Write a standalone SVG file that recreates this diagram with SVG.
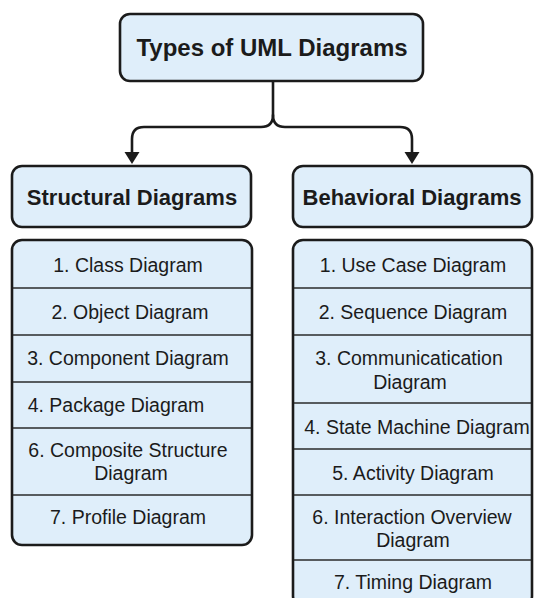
<svg xmlns="http://www.w3.org/2000/svg" width="547" height="598" viewBox="0 0 547 598">
<style>
.box{fill:#dfeefa;stroke:#1b1b1b;stroke-width:2.6}
.sep{stroke:#2a2a2a;stroke-width:1.4}
.conn{fill:none;stroke:#1b1b1b;stroke-width:2.6;stroke-linecap:round;stroke-linejoin:round}
.ttl{font-family:"Liberation Sans",Arial,sans-serif;font-weight:bold;font-size:24px;fill:#1b1b1b;text-anchor:middle}
.hdr{font-family:"Liberation Sans",Arial,sans-serif;font-weight:bold;font-size:22px;fill:#1b1b1b;text-anchor:middle}
.item{font-family:"Liberation Sans",Arial,sans-serif;font-size:19.5px;fill:#1b1b1b;text-anchor:middle}
</style>
<rect width="547" height="598" fill="#ffffff"/>
<g id="connectors">
<path class="conn" d="M273,81 V115 Q273,127 261,127 H144 Q132,127 132,139 V153"/>
<path class="conn" d="M273,115 Q273,127 285,127 H400 Q412,127 412,139 V153"/>
<polygon points="124.5,152 139.5,152 132,164" fill="#1b1b1b"/>
<polygon points="404.5,152 419.5,152 412,164" fill="#1b1b1b"/>
</g>
<g id="title">
<rect class="box" x="120" y="14" width="303" height="67" rx="10"/>
<text class="ttl" x="272" y="56">Types of UML Diagrams</text>
</g>
<g id="structural">
<rect class="box" x="12" y="166" width="239" height="61" rx="10"/>
<text class="hdr" x="132" y="205">Structural Diagrams</text>
</g>
<g id="behavioral">
<rect class="box" x="293" y="166" width="239" height="61" rx="10"/>
<text class="hdr" x="412" y="205">Behavioral Diagrams</text>
</g>
<g id="structural-list">
<rect class="box" x="12" y="240" width="240" height="305" rx="10"/>
<line class="sep" x1="13" y1="288" x2="251" y2="288"/>
<line class="sep" x1="13" y1="335" x2="251" y2="335"/>
<line class="sep" x1="13" y1="382" x2="251" y2="382"/>
<line class="sep" x1="13" y1="428" x2="251" y2="428"/>
<line class="sep" x1="13" y1="495" x2="251" y2="495"/>
<text class="item" x="128" y="272">1. Class Diagram</text>
<text class="item" x="130" y="319">2. Object Diagram</text>
<text class="item" x="128" y="365">3. Component Diagram</text>
<text class="item" x="116" y="412">4. Package Diagram</text>
<text class="item" x="128" y="457">6. Composite Structure</text>
<text class="item" x="131" y="480">Diagram</text>
<text class="item" x="128" y="524">7. Profile Diagram</text>
</g>
<g id="behavioral-list">
<rect class="box" x="293" y="240" width="239" height="366" rx="10"/>
<line class="sep" x1="294" y1="288" x2="531" y2="288"/>
<line class="sep" x1="294" y1="335" x2="531" y2="335"/>
<line class="sep" x1="294" y1="403" x2="531" y2="403"/>
<line class="sep" x1="294" y1="449" x2="531" y2="449"/>
<line class="sep" x1="294" y1="495" x2="531" y2="495"/>
<line class="sep" x1="294" y1="560" x2="531" y2="560"/>
<text class="item" x="413" y="272">1. Use Case Diagram</text>
<text class="item" x="413" y="319">2. Sequence Diagram</text>
<text class="item" x="409" y="365">3. Communicatication</text>
<text class="item" x="410" y="389">Diagram</text>
<text class="item" x="417" y="434">4. State Machine Diagram</text>
<text class="item" x="413" y="480">5. Activity Diagram</text>
<text class="item" x="412" y="524">6. Interaction Overview</text>
<text class="item" x="413" y="547">Diagram</text>
<text class="item" x="413" y="589">7. Timing Diagram</text>
</g>
</svg>
